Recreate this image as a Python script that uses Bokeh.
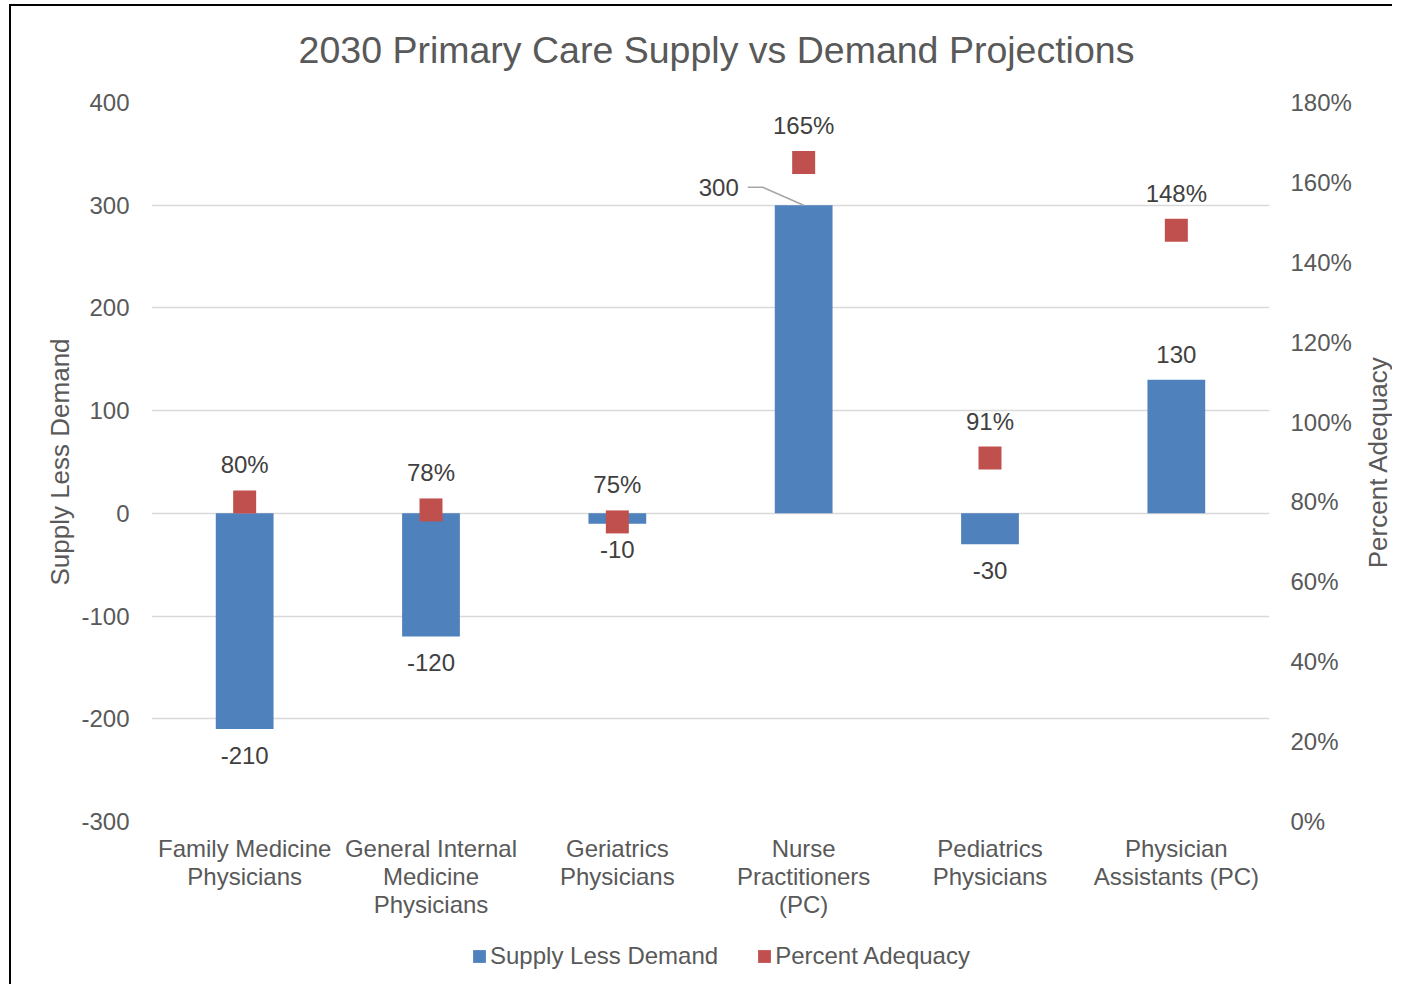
import math
from bokeh.plotting import figure
from bokeh.layouts import row, column
from bokeh.models import (ColumnDataSource, Range1d, LinearAxis, FixedTicker,
                          NumeralTickFormatter, Legend, LegendItem)
from bokeh.core.properties import value
from bokeh.embed import file_html
from bokeh.resources import INLINE

# ---- data ----
categories = ["Family Medicine Physicians", "General Internal Medicine Physicians",
              "Geriatrics Physicians", "Nurse Practitioners (PC)",
              "Pediatrics Physicians", "Physician Assistants (PC)"]
category_labels = ["Family Medicine\nPhysicians", "General Internal\nMedicine\nPhysicians",
                   "Geriatrics\nPhysicians", "Nurse\nPractitioners\n(PC)",
                   "Pediatrics\nPhysicians", "Physician\nAssistants (PC)"]
supply_less_demand = [-210, -120, -10, 300, -30, 130]
percent_adequacy = [0.80, 0.78, 0.75, 1.65, 0.91, 1.48]
left_ticks = [-300, -200, -100, 0, 100, 200, 300, 400]
right_ticks = [0.0, 0.2, 0.4, 0.6, 0.8, 1.0, 1.2, 1.4, 1.6, 1.8]
title_text = "2030 Primary Care Supply vs Demand Projections"
series_names = ["Supply Less Demand", "Percent Adequacy"]

FONT = "Liberation Sans"
BLUE = "#4f81bd"
RED = "#c0504d"
AXIS_TXT = "#595959"
LABEL_TXT = "#404040"
GRID = "#d9d9d9"

n = len(categories)
xpos = [i + 0.5 for i in range(n)]
FRAME_W, FRAME_H = 1118, 719
LEFT, RIGHT = 140, 93
TITLE_H, TOP = 80, 16
LEGEND_H = 64


def bare(fig):
    fig.grid.visible = False
    fig.outline_line_color = None
    fig.background_fill_color = "white"
    fig.border_fill_color = "white"


src = ColumnDataSource(dict(x=xpos, val=supply_less_demand, pct=percent_adequacy,
                            plabel=[f"{round(v * 100)}%" for v in percent_adequacy]))

# ---- title strip ----
pt = figure(frame_width=FRAME_W, frame_height=TITLE_H, x_range=Range1d(0, n), y_range=Range1d(0, 1),
            x_axis_type=None, y_axis_type=None, output_backend="svg", toolbar_location=None,
            min_border_left=LEFT, min_border_right=0, min_border_top=0, min_border_bottom=0)
bare(pt)
pt.text(x=[n / 2], y=[1], text=[title_text], x_offset=6, y_offset=43,
        text_align="center", text_baseline="middle", text_font=value(FONT),
        text_font_size="37.5px", text_color=AXIS_TXT)

# ---- main chart ----
p = figure(frame_width=FRAME_W, frame_height=FRAME_H,
           x_range=Range1d(0, n), y_range=Range1d(left_ticks[0], left_ticks[-1]),
           output_backend="svg", toolbar_location=None,
           min_border_left=LEFT, min_border_right=RIGHT, min_border_top=TOP, min_border_bottom=0)
bare(p)
p.extra_y_ranges = {"pct": Range1d(right_ticks[0], right_ticks[-1])}

ya = p.yaxis[0]
ya.ticker = FixedTicker(ticks=left_ticks)
ya.major_label_overrides = {t: str(t) for t in left_ticks}
ya.axis_label = "Supply Less Demand"
ya.axis_label_standoff = 3
ya.major_label_standoff = 16

ra = LinearAxis(y_range_name="pct", ticker=FixedTicker(ticks=right_ticks),
                formatter=NumeralTickFormatter(format="0%"))
ra.major_label_standoff = 15
p.add_layout(ra, "right")

label_lines = [lab.split("\n") for lab in category_labels]
n_lines = max(len(l) for l in label_lines)
xaxes = [p.xaxis[0]]
for k in range(1, n_lines):
    ax = LinearAxis()
    p.add_layout(ax, "below")
    xaxes.append(ax)
for k, ax in enumerate(xaxes):
    ax.ticker = FixedTicker(ticks=xpos)
    ax.major_label_overrides = {x: (l[k] if k < len(l) else "") for x, l in zip(xpos, label_lines)}
    ax.major_tick_out = 0
    ax.major_tick_in = 0
    ax.major_label_standoff = 13 if k == 0 else -2

for ax in [ya, ra] + xaxes:
    ax.axis_line_color = None
    ax.major_tick_line_color = None
    ax.minor_tick_line_color = None
    ax.major_label_text_font = FONT
    ax.major_label_text_font_size = "24px"
    ax.major_label_text_color = AXIS_TXT
    ax.axis_label_text_font = FONT
    ax.axis_label_text_font_size = "26px"
    ax.axis_label_text_font_style = "normal"
    ax.axis_label_text_color = AXIS_TXT

p.ygrid.visible = True
p.ygrid.ticker = FixedTicker(ticks=left_ticks)
p.ygrid.grid_line_color = GRID
p.ygrid.grid_line_width = 1.5

leader_idx = supply_less_demand.index(max(supply_less_demand))
bar_dy = [(-25 if v > 0 else 26) for v in supply_less_demand]

p.vbar(x="x", top="val", width=0.31, source=src, fill_color=BLUE, line_color=None)
p.scatter(x="x", y="pct", marker="square", size=23, source=src,
          fill_color=RED, line_color=None, y_range_name="pct")

p.text(x="x", y="pct", text="plabel", source=src, y_range_name="pct", y_offset=-37,
       text_align="center", text_baseline="middle", text_font=value(FONT),
       text_font_size="24px", text_color=LABEL_TXT)

others = [i for i in range(n) if i != leader_idx]
src_o = ColumnDataSource(dict(x=[xpos[i] for i in others],
                              val=[supply_less_demand[i] for i in others],
                              vlabel=[str(supply_less_demand[i]) for i in others],
                              dy=[bar_dy[i] for i in others]))
p.text(x="x", y="val", text="vlabel", source=src_o, y_offset="dy",
       text_align="center", text_baseline="middle", text_font=value(FONT),
       text_font_size="24px", text_color=LABEL_TXT)

px_per_unit = FRAME_H / (left_ticks[-1] - left_ticks[0])
lx = xpos[leader_idx]
lv = supply_less_demand[leader_idx]
ly = lv + 18 / px_per_unit
p.line(x=[lx - 0.30, lx - 0.22, lx], y=[ly, ly, lv], line_color="#a6a6a6", line_width=1.5)
p.text(x=[lx - 0.30], y=[ly], text=[str(lv)], x_offset=-9,
       text_align="right", text_baseline="middle", text_font=value(FONT),
       text_font_size="24px", text_color=LABEL_TXT)

# ---- right-axis title strip (reads bottom-to-top) ----
p2 = figure(frame_width=30, frame_height=FRAME_H, x_range=Range1d(0, 1), y_range=p.y_range,
            x_axis_type=None, y_axis_type=None, output_backend="svg", toolbar_location=None,
            min_border_left=0, min_border_right=0, min_border_top=TOP, min_border_bottom=0)
bare(p2)
p2.text(x=[0.5], y=[(left_ticks[0] + left_ticks[-1]) / 2], text=["Percent Adequacy"],
        angle=math.pi / 2, text_align="center", text_baseline="middle",
        text_font=value(FONT), text_font_size="26px", text_color=AXIS_TXT)

# ---- legend strip (proxy renderers use the real data, kept outside the strip's view) ----
pl = figure(frame_width=FRAME_W, frame_height=LEGEND_H, x_range=Range1d(0, n),
            y_range=Range1d(5000, 5001),
            x_axis_type=None, y_axis_type=None, output_backend="svg", toolbar_location=None,
            min_border_left=LEFT, min_border_right=0, min_border_top=0, min_border_bottom=0)
bare(pl)
lg_bar = pl.vbar(x="x", top="val", width=0.31, source=src, fill_color=BLUE, line_color=None)
lg_mark = pl.vbar(x="x", top="pct", width=0.31, source=src, fill_color=RED, line_color=None)
legend = Legend(items=[LegendItem(label=series_names[0], renderers=[lg_bar]),
                       LegendItem(label=series_names[1], renderers=[lg_mark])],
                orientation="horizontal", location=(320, 14),
                glyph_width=16, glyph_height=16, label_standoff=3, spacing=38,
                padding=0, margin=0, border_line_color=None, background_fill_alpha=0,
                label_text_font=FONT, label_text_font_size="24px", label_text_color=AXIS_TXT)
pl.add_layout(legend)

layout = column(pt, row(p, p2), pl)
layout.styles = {"margin-left": "9px", "margin-top": "4px",
                 "border-left": "2px solid black", "border-top": "2px solid black"}

open("out.html", "w").write(file_html(layout, INLINE))
